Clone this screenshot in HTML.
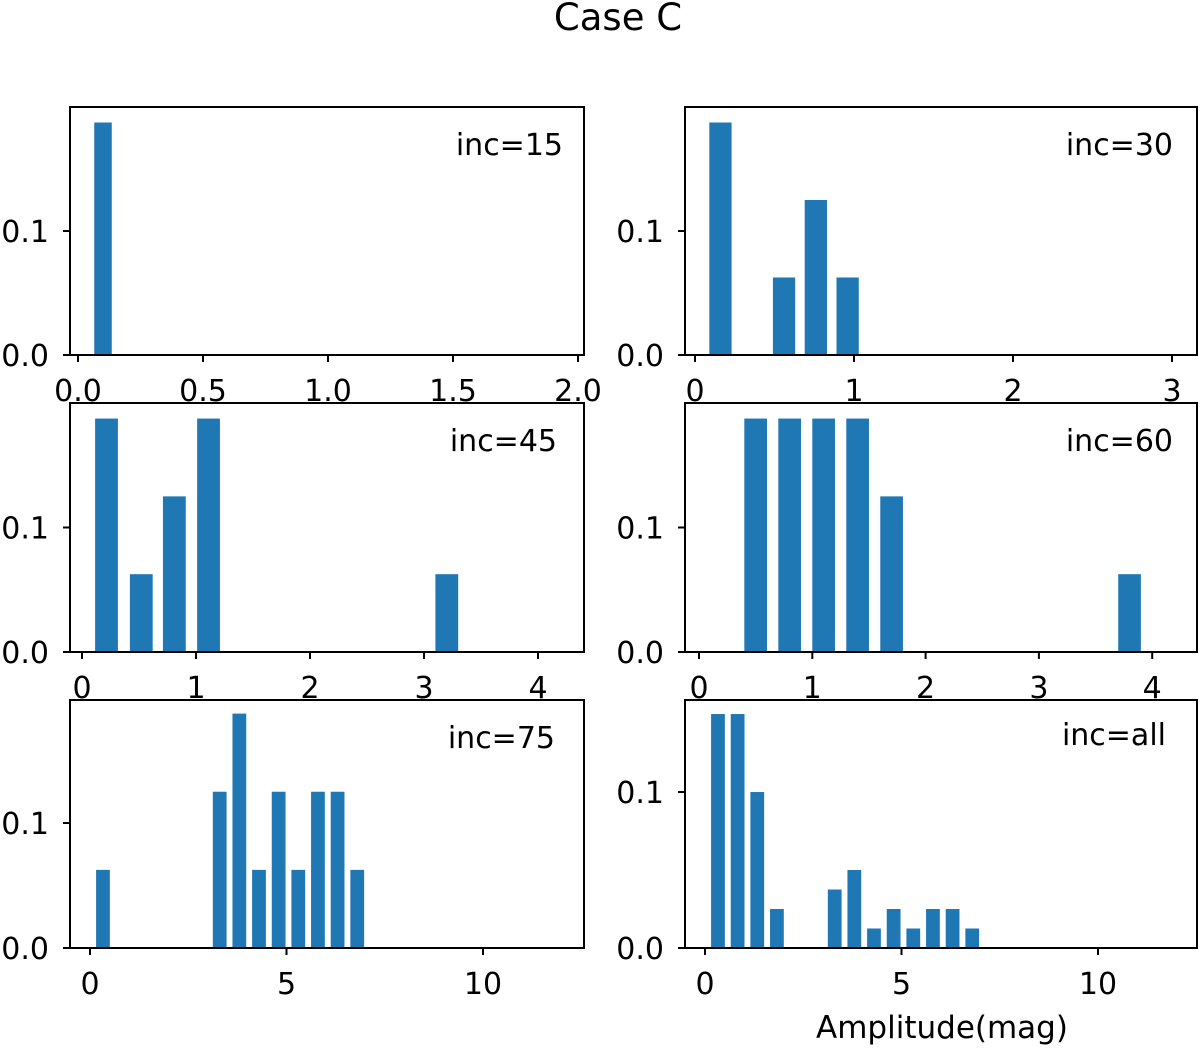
<!DOCTYPE html>
<html><head><meta charset="utf-8"><style>
body{margin:0;background:#fff}
svg text{font-family:"DejaVu Sans","Liberation Sans",sans-serif;fill:#000}
</style></head><body>
<svg id="c" width="1200" height="1045" viewBox="0 0 1200 1045">
<text x="618" y="30" font-size="37" text-anchor="middle">Case C</text>
<text x="942" y="1038" font-size="31" text-anchor="middle">Amplitude(mag)</text>
</svg>
<script>
const labels=["inc=15","inc=30","inc=45","inc=60","inc=75","inc=all"];
const centers15=[0.1];
const values15=[0.1875];
const centers30=[0.16,0.56,0.76,0.96];
const values30=[0.1875,0.0625,0.125,0.0625];
const centers45=[0.215,0.52,0.81,1.11,3.2];
const values45=[0.1875,0.0625,0.125,0.1875,0.0625];
const centers60=[0.5,0.8,1.1,1.4,1.7,3.8];
const values60=[0.1875,0.1875,0.1875,0.1875,0.125,0.0625];
const centers75=[0.33,3.3,3.8,4.3,4.8,5.3,5.8,6.3,6.8];
const values75=[0.0625,0.125,0.1875,0.0625,0.125,0.0625,0.125,0.125,0.0625];
const centersAll=[0.33,0.83,1.33,1.83,3.3,3.8,4.3,4.8,5.3,5.8,6.3,6.8];
const valuesAll=[0.15,0.15,0.1,0.025,0.0375,0.05,0.0125,0.025,0.0125,0.025,0.025,0.0125];
const xTicks15=["0.0","0.5","1.0","1.5","2.0"];
const xTicks30=["0","1","2","3"];
const xTicks45=["0","1","2","3","4"];
const xTicks75=["0","5","10"];
const yTicks=["0.0","0.1"];
const NS="http://www.w3.org/2000/svg";
const svg=document.getElementById('c');
function el(t,a,p){const e=document.createElementNS(NS,t);for(const k in a)e.setAttribute(k,a[k]);(p||svg).appendChild(e);return e;}
const panels=[
 {box:[70,107,584,355],x0px:78,xs:250,ymax:0.2,c:centers15,v:values15,w:0.07,tv:[0,0.5,1,1.5,2],tl:xTicks15,lab:labels[0],lx:563,ly:155},
 {box:[685,107,1197,355],x0px:695,xs:159,ymax:0.2,c:centers30,v:values30,w:0.14,tv:[0,1,2,3],tl:xTicks30,lab:labels[1],lx:1173,ly:155},
 {box:[70,403,584,652],x0px:82,xs:114,ymax:0.2,c:centers45,v:values45,w:0.2,tv:[0,1,2,3,4],tl:xTicks45,lab:labels[2],lx:557,ly:451},
 {box:[685,403,1197,652],x0px:699,xs:113.3,ymax:0.2,c:centers60,v:values60,w:0.2,tv:[0,1,2,3,4],tl:xTicks45,lab:labels[3],lx:1173,ly:451},
 {box:[70,700,584,948],x0px:90,xs:39.3,ymax:0.1984,c:centers75,v:values75,w:0.35,tv:[0,5,10],tl:xTicks75,lab:labels[4],lx:555,ly:748},
 {box:[685,700,1197,948],x0px:705,xs:39.3,ymax:0.159,c:centersAll,v:valuesAll,w:0.35,tv:[0,5,10],tl:xTicks75,lab:labels[5],lx:1166,ly:745}
];
panels.forEach((p,i)=>{
 const [L,T,R,B]=p.box;
 const g=el('g',{});
 
 
 const X=v=>p.x0px+v*p.xs;
 const Y=v=>B-(v/p.ymax)*(B-T);
 p.c.forEach((c,j)=>{
  const r=el('rect',{x:X(c-p.w/2),width:p.w*p.xs,y:Y(p.v[j]),height:B-Y(p.v[j]),fill:'#1f77b4'},g);
  
  
 });
 const f=el('rect',{x:L,y:T,width:R-L,height:B-T,fill:'none',stroke:'#000','stroke-width':2},g);
 
 
 p.tv.forEach((t,j)=>{
  el('line',{x1:X(t),x2:X(t),y1:B,y2:B+7,stroke:'#000','stroke-width':2},g);
  const tx=el('text',{x:X(t),y:B+46,'font-size':30,'text-anchor':'middle'},g);
  tx.textContent=p.tl[j];
  
  
 });
 [0,0.1].forEach((t,j)=>{
  el('line',{x1:L-7,x2:L,y1:Y(t),y2:Y(t),stroke:'#000','stroke-width':2},g);
  const tx=el('text',{x:L-21,y:Y(t)+11,'font-size':30,'text-anchor':'end'},g);
  tx.textContent=yTicks[j];
  
  
 });
 const lt=el('text',{x:p.lx,y:p.ly,'font-size':30,'text-anchor':'end'},g);
 lt.textContent=p.lab;
 
 
});
</script>
</body></html>
